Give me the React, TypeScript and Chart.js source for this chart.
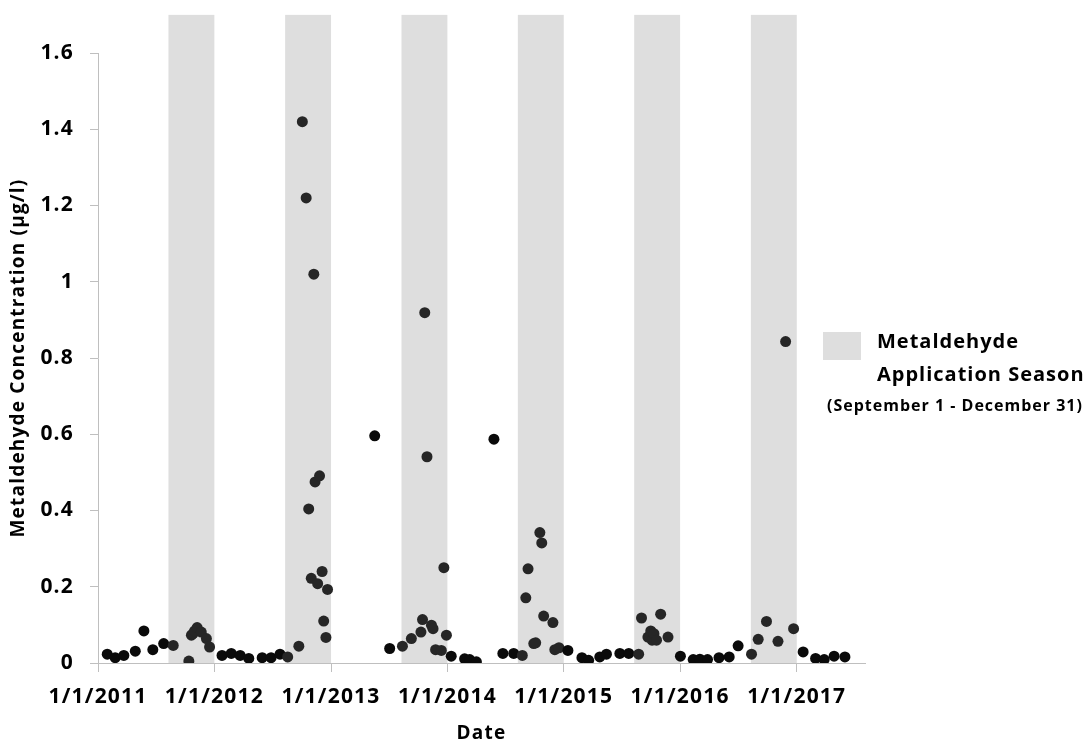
import React, { useEffect, useRef } from 'react';
import { Chart, registerables } from 'chart.js';

Chart.register(...registerables);

// Sampling dates and measured metaldehyde concentrations (µg/l)
const sampleDates: string[] = [
  '2011-01-30', '2011-02-24', '2011-03-23', '2011-04-28', '2011-05-25', '2011-06-22',
  '2011-07-26', '2011-08-25', '2011-10-13', '2011-10-21', '2011-10-26', '2011-10-31',
  '2011-11-08', '2011-11-21', '2011-12-07', '2011-12-17',
  '2012-01-25', '2012-02-23', '2012-03-22', '2012-04-18', '2012-05-30', '2012-06-27',
  '2012-07-25', '2012-08-18', '2012-09-22', '2012-10-03', '2012-10-15', '2012-10-23',
  '2012-10-31', '2012-11-08', '2012-11-12', '2012-11-20', '2012-11-26', '2012-12-04',
  '2012-12-09', '2012-12-16', '2012-12-21',
  '2013-05-18', '2013-07-04', '2013-08-13', '2013-09-10', '2013-10-10', '2013-10-15',
  '2013-10-22', '2013-10-29', '2013-11-12', '2013-11-17', '2013-11-25', '2013-12-13',
  '2013-12-21', '2013-12-29',
  '2014-01-13', '2014-02-24', '2014-03-12', '2014-04-02', '2014-05-27', '2014-06-24',
  '2014-07-28', '2014-08-24', '2014-09-04', '2014-09-11', '2014-09-29', '2014-10-05',
  '2014-10-18', '2014-10-24', '2014-10-30', '2014-11-28', '2014-12-04', '2014-12-17',
  '2015-01-14', '2015-02-27', '2015-03-20', '2015-04-24', '2015-05-15', '2015-06-26',
  '2015-07-24', '2015-08-24', '2015-09-02', '2015-09-22', '2015-10-01', '2015-10-05',
  '2015-10-11', '2015-10-19', '2015-11-01', '2015-11-24',
  '2016-01-02', '2016-02-11', '2016-03-03', '2016-03-27', '2016-05-02', '2016-06-03',
  '2016-07-01', '2016-08-12', '2016-09-02', '2016-09-28', '2016-11-03', '2016-11-27',
  '2016-12-22',
  '2017-01-21', '2017-03-01', '2017-03-28', '2017-04-28', '2017-06-01',
];

const concentrations: number[] = [
  0.023, 0.014, 0.020, 0.031, 0.084, 0.035,
  0.051, 0.046, 0.005, 0.073, 0.077, 0.084,
  0.093, 0.081, 0.064, 0.042,
  0.020, 0.025, 0.020, 0.012, 0.014, 0.014,
  0.023, 0.016, 0.044, 1.42, 1.22, 0.404,
  0.222, 1.02, 0.475, 0.208, 0.491, 0.240,
  0.110, 0.067, 0.193,
  0.596, 0.038, 0.044, 0.064, 0.081, 0.114,
  0.919, 0.541, 0.099, 0.090, 0.035, 0.033,
  0.250, 0.073,
  0.018, 0.011, 0.009, 0.003, 0.587, 0.025,
  0.025, 0.020, 0.171, 0.247, 0.051, 0.053,
  0.342, 0.315, 0.123, 0.106, 0.035, 0.040,
  0.033, 0.014, 0.007, 0.016, 0.023, 0.025,
  0.025, 0.023, 0.118, 0.068, 0.084, 0.060,
  0.077, 0.060, 0.128, 0.068,
  0.018, 0.009, 0.010, 0.009, 0.014, 0.016,
  0.045, 0.023, 0.062, 0.109, 0.057, 0.843,
  0.090,
  0.029, 0.012, 0.009, 0.018, 0.016,
];

// Shaded application-season bands
const bandStarts: string[] = ['2011-08-10', '2012-08-10', '2013-08-10', '2014-08-10', '2015-08-10', '2016-08-10'];
const bandEnds: string[] = ['2012-01-01', '2013-01-01', '2014-01-01', '2015-01-01', '2016-01-01', '2017-01-01'];
const bandTopValue = 1.7;

// Axis ranges and tick positions
const xStart = '2011-01-01';
const xEnd = '2017-08-03';
const yearTicks: string[] = ['2011-01-01', '2012-01-01', '2013-01-01', '2014-01-01', '2015-01-01', '2016-01-01', '2017-01-01'];
const yMin = 0;
const yMax = 1.6;
const yStep = 0.2;

const legendTitleLines: string[] = ['Metaldehyde', 'Application Season'];
const legendSubtitle = '(September 1 - December 31)';

const FONT = "'Open Sans', 'DejaVu Sans', sans-serif";
const BAND_COLOR = '#dedede';
const AXIS_COLOR = '#bfbfbf';

const dayOf = (iso: string): number => {
  const [y, m, d] = iso.split('-').map(Number);
  return Date.UTC(y, m - 1, d) / 86400000;
};

const formatDay = (day: number): string => {
  const dt = new Date(day * 86400000);
  return `${dt.getUTCMonth() + 1}/${dt.getUTCDate()}/${dt.getUTCFullYear()}`;
};

const inBand = (day: number): boolean =>
  bandStarts.some((s, i) => day >= dayOf(s) && day < dayOf(bandEnds[i]));

// Grey season columns behind the axes and points
const seasonBandsPlugin = {
  id: 'seasonBands',
  beforeDraw(chart: any) {
    const { ctx, scales } = chart;
    const x = scales.x;
    const y = scales.y;
    const top = y.getPixelForValue(bandTopValue);
    const bottom = y.getPixelForValue(0);
    ctx.save();
    ctx.fillStyle = BAND_COLOR;
    bandStarts.forEach((s, i) => {
      const x0 = x.getPixelForValue(dayOf(s));
      const x1 = x.getPixelForValue(dayOf(bandEnds[i]));
      ctx.fillRect(x0, top, x1 - x0, bottom - top);
    });
    ctx.restore();
    // slightly looser tracking for all axis text
    ctx.letterSpacing = '1.2px';
  },
  afterDraw(chart: any) {
    chart.ctx.letterSpacing = '0px';
  },
};

const seasonLegendPlugin = {
  id: 'seasonLegend',
  afterDraw(chart: any) {
    const { ctx } = chart;
    ctx.save();
    ctx.letterSpacing = '1px';
    ctx.fillStyle = BAND_COLOR;
    ctx.fillRect(823, 332, 38, 28);
    ctx.fillStyle = '#000';
    ctx.textAlign = 'left';
    ctx.textBaseline = 'alphabetic';
    ctx.font = `bold 20px ${FONT}`;
    ctx.fillText(legendTitleLines[0], 877, 348);
    ctx.fillText(legendTitleLines[1], 877, 381);
    ctx.font = `bold 16px ${FONT}`;
    ctx.fillText(legendSubtitle, 827, 411);
    ctx.restore();
  },
};

export default function App() {
  const canvasRef = useRef<HTMLCanvasElement | null>(null);

  useEffect(() => {
    const canvas = canvasRef.current;
    if (!canvas) return;

    const points = sampleDates.map((d, i) => ({ x: dayOf(d), y: concentrations[i] }));

    const chart = new Chart(canvas, {
      type: 'scatter',
      data: {
        datasets: [
          {
            label: 'Metaldehyde',
            data: points,
            pointRadius: 5.5,
            pointHoverRadius: 5.5,
            borderWidth: 0,
            backgroundColor: (c: any) =>
              c.raw && inBand(c.raw.x) ? '#262626' : '#0a0a0a',
          },
        ],
      },
      options: {
        responsive: false,
        animation: false,
        events: [],
        layout: { padding: { top: 53, right: 223, left: 0, bottom: 0 } },
        plugins: {
          legend: { display: false },
          tooltip: { enabled: false },
        },
        scales: {
          x: {
            type: 'linear',
            min: dayOf(xStart),
            max: dayOf(xEnd),
            afterBuildTicks: (scale: any) => {
              scale.ticks = yearTicks.map((d) => ({ value: dayOf(d) }));
            },
            afterFit: (scale: any) => {
              scale.height = 82;
            },
            border: { display: true, color: AXIS_COLOR, width: 1 },
            grid: {
              drawOnChartArea: false,
              drawTicks: true,
              tickLength: 9,
              color: AXIS_COLOR,
            },
            ticks: {
              autoSkip: false,
              maxRotation: 0,
              padding: 12,
              color: '#000',
              font: { family: FONT, size: 21, weight: 'bold' },
              callback: (v: any) => formatDay(Number(v)),
            },
            title: {
              display: true,
              text: 'Date',
              color: '#000',
              font: { family: FONT, size: 19, weight: 'bold' },
              padding: { top: 0, bottom: 0 },
            },
          },
          y: {
            min: yMin,
            max: yMax,
            afterFit: (scale: any) => {
              scale.width = 98;
            },
            border: { display: true, color: AXIS_COLOR, width: 1 },
            grid: {
              drawOnChartArea: false,
              drawTicks: true,
              tickLength: 8,
              color: AXIS_COLOR,
            },
            ticks: {
              stepSize: yStep,
              padding: 16,
              color: '#000',
              font: { family: FONT, size: 21, weight: 'bold' },
              callback: (v: any) => String(Number(Number(v).toFixed(1))),
            },
            title: {
              display: true,
              text: 'Metaldehyde Concentration (µg/l)',
              color: '#000',
              font: { family: FONT, size: 19, weight: 'bold' },
              padding: { top: 7, bottom: 0 },
            },
          },
        },
      },
      plugins: [seasonBandsPlugin, seasonLegendPlugin],
    });

    return () => chart.destroy();
  }, []);

  return (
    <div style={{ position: 'absolute', left: 0, top: 0, width: 1088, height: 745, background: '#fff' }}>
      <canvas ref={canvasRef} width={1088} height={745} />
    </div>
  );
}
